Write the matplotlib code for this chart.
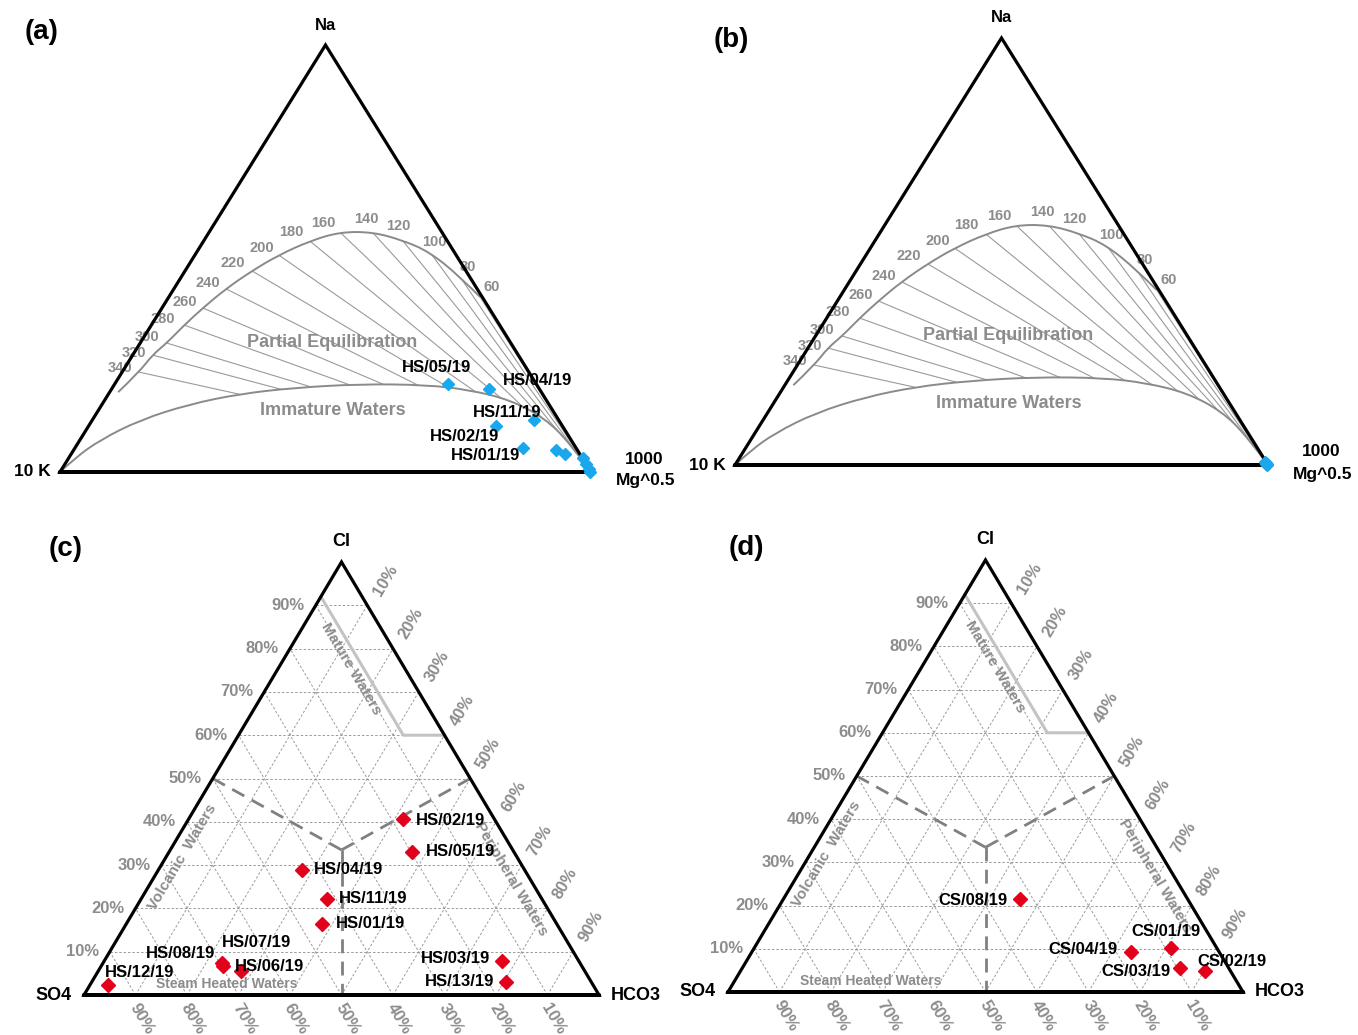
import numpy as np
import matplotlib
matplotlib.use("Agg")
import matplotlib.pyplot as plt
from matplotlib.patches import PathPatch
from matplotlib.path import Path

plt.rcParams['font.family'] = ['Liberation Sans', 'DejaVu Sans']

# ---------------- data ----------------
# Giggenbach Na-K-Mg diagram (fractions of Na/1000, K/100, sqrt(Mg))
iso_temps = [340, 320, 300, 280, 260, 240, 220, 200, 180, 160, 140, 120, 100, 80, 60]
iso_na = [0.234, 0.274, 0.302, 0.344, 0.384, 0.429, 0.471, 0.508, 0.541, 0.562, 0.562, 0.543, 0.515, 0.457, 0.410]
iso_mg = [0.032, 0.037, 0.050, 0.062, 0.077, 0.098, 0.126, 0.158, 0.200, 0.246, 0.307, 0.373, 0.439, 0.525, 0.586]
full_eq_start_na = 0.187
full_eq_start_mg = 0.016
immature_na = [0.0, 0.033, 0.075, 0.122, 0.159, 0.183, 0.197, 0.206, 0.204, 0.192, 0.169, 0.126, 0.068, 0.0]
immature_mg = [0.0, 0.012, 0.038, 0.090, 0.165, 0.248, 0.341, 0.462, 0.589, 0.676, 0.763, 0.850, 0.926, 1.0]

# (a) hot springs
hs_a_names = ['HS/05/19', 'HS/04/19', 'HS/11/19', 'HS/02/19', 'HS/01/19',
              'HS/03/19', 'HS/06/19', 'HS/07/19', 'HS/08/19', 'HS/12/19', 'HS/13/19']
hs_a_na = [0.205, 0.194, 0.122, 0.108, 0.056, 0.052, 0.041, 0.032, 0.018, 0.008, 0.0]
hs_a_mg = [0.629, 0.710, 0.832, 0.768, 0.843, 0.909, 0.931, 0.968, 0.982, 0.992, 0.998]
hs_a_labelled = ['HS/05/19', 'HS/04/19', 'HS/11/19', 'HS/02/19', 'HS/01/19']

# (b) cold springs
cs_b_names = ['CS/01/19', 'CS/02/19', 'CS/03/19', 'CS/04/19', 'CS/08/19']
cs_b_na = [0.004, 0.0, 0.006, 0.003, 0.002]
cs_b_mg = [0.994, 0.998, 0.991, 0.996, 0.995]

# (c) hot springs Cl-SO4-HCO3 (fractions)
hs_c_names = ['HS/02/19', 'HS/05/19', 'HS/04/19', 'HS/11/19', 'HS/01/19', 'HS/08/19',
              'HS/07/19', 'HS/06/19', 'HS/12/19', 'HS/03/19', 'HS/13/19']
hs_c_cl = [0.406, 0.331, 0.289, 0.222, 0.164, 0.074, 0.068, 0.055, 0.023, 0.079, 0.031]
hs_c_hco3 = [0.416, 0.472, 0.278, 0.360, 0.380, 0.230, 0.235, 0.277, 0.035, 0.773, 0.803]

# (d) cold springs
cs_d_names = ['CS/08/19', 'CS/04/19', 'CS/01/19', 'CS/03/19', 'CS/02/19']
cs_d_cl = [0.215, 0.092, 0.103, 0.056, 0.049]
cs_d_hco3 = [0.460, 0.736, 0.809, 0.849, 0.901]

# Cl-SO4-HCO3 field boundaries
mature_cl = [0.92, 0.60, 0.60]
mature_hco3 = [0.0, 0.32, 0.40]
center_cl, center_hco3 = 0.335, 0.3325
tick_pct = [10, 20, 30, 40, 50, 60, 70, 80, 90]

# ---------------- layout helpers ----------------
W, H = 1358, 1035
fig = plt.figure(figsize=(W / 100, H / 100), dpi=100)
GRAY = '#8c8c8c'
CURVE = '#8a8a8a'
BLUE = '#1aa7ec'
RED = '#e3001b'


def make_axes(box, Lx, Rx, base, top):
    x0, y0, x1, y1 = box
    ax = fig.add_axes([x0 / W, 1 - y1 / H, (x1 - x0) / W, (y1 - y0) / H])
    sx = Rx - Lx
    sy = base - top
    ax.set_xlim((x0 - Lx) / sx, (x1 - Lx) / sx)
    ax.set_ylim((base - y1) / sy, (base - y0) / sy)
    ax.set_axis_off()
    return ax


def edge_angle(ax):
    p = ax.transData.transform([(0, 0), (0.5, 1)])
    return np.degrees(np.arctan2(p[1, 1] - p[0, 1], p[1, 0] - p[0, 0]))


def outline(ax):
    ax.plot([0, 1, 0.5, 0, 1], [0, 0, 1, 0, 0], color='black', lw=2.3,
            solid_joinstyle='miter', clip_on=False, zorder=5)


def nkm_xy(na, mg):
    na = np.asarray(na, float)
    mg = np.asarray(mg, float)
    return mg + na / 2, na


def csh_xy(cl, hco3):
    cl = np.asarray(cl, float)
    hco3 = np.asarray(hco3, float)
    return hco3 + cl / 2, cl


def smooth_segments(pts):
    """Quadratic-Bezier path pieces through midpoints, using the read points as control points."""
    verts = [tuple(pts[0])]
    codes = [Path.MOVETO]
    for i in range(1, len(pts) - 1):
        mid = (pts[i] + pts[i + 1]) / 2 if i < len(pts) - 2 else pts[i + 1]
        verts += [tuple(pts[i]), tuple(mid)]
        codes += [Path.CURVE3, Path.CURVE3]
    return verts, codes


iso_offsets = [(-19, 4), (-18, 2), (-20, 6), (-22, 6), (-18, 6), (-18, 6), (-19, 8), (-17, 7),
               (-19, 9), (-17, 9), (-6, 13), (-4, 14), (5, 10), (8, 10), (12, 10)]


def giggenbach(ax, na, mg, names, labelled, offs):
    ux, uy = nkm_xy([full_eq_start_na] + iso_na, [full_eq_start_mg] + iso_mg)
    lx, ly = nkm_xy(immature_na, immature_mg)
    up = np.column_stack([ux, uy])
    lo = np.column_stack([lx, ly])
    uv, uc = smooth_segments(up)
    lv, lc = smooth_segments(lo)
    ax.add_patch(PathPatch(Path(uv, uc), fill=False, ec=CURVE, lw=1.4, zorder=2))
    ax.add_patch(PathPatch(Path(lv, lc), fill=False, ec=CURVE, lw=1.4, zorder=2))
    # region between the two curves, used to clip the isotherm lines
    lrv, lrc = smooth_segments(lo[::-1])
    cv = uv + [(1.0, 0.0)] + lrv[1:] + [uv[0], uv[0]]
    cc = uc + [Path.LINETO] + lrc[1:] + [Path.LINETO, Path.CLOSEPOLY]
    clip = PathPatch(Path(cv, cc), fill=False, lw=0)
    ax.add_patch(clip)
    clip.set_visible(False)
    ix, iy = nkm_xy(iso_na, iso_mg)
    for x, y, t, o in zip(ix, iy, iso_temps, iso_offsets):
        ln, = ax.plot([x, 1.0], [y, 0.0], color='#9a9a9a', lw=0.8, zorder=1)
        ln.set_clip_path(clip)
        ax.annotate(str(t), (x, y), xytext=o, textcoords='offset pixels', ha='center',
                    va='center', fontsize=10.5, fontweight='bold', color=GRAY)
    outline(ax)
    ax.text(0.513, 0.304, 'Partial Equilibration', ha='center', va='center', fontsize=13,
            fontweight='bold', color=GRAY)
    ax.text(0.514, 0.143, 'Immature Waters', ha='center', va='center', fontsize=13,
            fontweight='bold', color=GRAY)
    ax.annotate('Na', (0.5, 1), xytext=(0, 20), textcoords='offset pixels', ha='center',
                va='center', fontsize=12, fontweight='bold',
                family=['Liberation Sans Narrow', 'Liberation Sans'])
    ax.annotate('10 K', (0, 0), xytext=(-9, 0), textcoords='offset pixels', ha='right',
                va='center', fontsize=12.5, fontweight='bold')
    ax.annotate('1000', (1, 0), xytext=(53, 13), textcoords='offset pixels', ha='center',
                va='center', fontsize=12.5, fontweight='bold')
    ax.annotate('Mg^0.5', (1, 0), xytext=(55, -9), textcoords='offset pixels', ha='center',
                va='center', fontsize=12.5, fontweight='bold')
    px, py = nkm_xy(na, mg)
    ax.plot(px, py, 'D', color=BLUE, ms=6.5, mec=BLUE, ls='none', zorder=6, clip_on=False)
    for n, x, y in zip(names, px, py):
        if n in labelled:
            ax.annotate(n, (x, y), xytext=offs[labelled.index(n)], textcoords='offset pixels',
                        ha='center', va='center', fontsize=12, fontweight='bold', zorder=7)


def clso4(ax, cl, hco3, names, offs):
    grid = dict(color='#9a9a9a', lw=0.7, ls=(0, (2.5, 2)), zorder=1)
    for pct in tick_pct:
        f = pct / 100
        ax.plot([f / 2, 1 - f / 2], [f, f], **grid)
        ax.plot([f, (1 + f) / 2], [0, 1 - f], **grid)
        ax.plot([1 - f, (1 - f) / 2], [0, 1 - f], **grid)
    ang = edge_angle(ax)
    tk = dict(textcoords='offset pixels', fontsize=12, fontweight='bold', color=GRAY,
              ha='center', va='center', rotation_mode='anchor')
    for pct in tick_pct:
        f = pct / 100
        ax.annotate(f'{pct}%', (f / 2, f), xytext=(-11, 0), **{**tk, 'ha': 'right'})
        ax.annotate(f'{pct}%', ((1 + f) / 2, 1 - f), xytext=(18, 25), rotation=ang, **tk)
        ax.annotate(f'{pct}%', (1 - f, 0), xytext=(6, -24), rotation=-ang, **tk)
    # field boundaries
    mx, my = csh_xy(mature_cl, mature_hco3)
    ax.plot(mx, my, color='#c3c3c3', lw=2.2, zorder=2)
    dash = dict(color='#808080', lw=2.0, dashes=(5, 3), zorder=2)
    cx, cy = csh_xy([center_cl], [center_hco3])
    ax.plot([0.25, cx[0]], [0.5, cy[0]], **dash)
    ax.plot([0.75, cx[0]], [0.5, cy[0]], **dash)
    ax.plot([cx[0], 0.5], [cy[0], 0.0], **dash)
    outline(ax)
    reg = dict(ha='center', va='center', fontsize=11, fontweight='bold', color=GRAY,
               rotation_mode='anchor')
    ax.text(0.518, 0.753, 'Mature Waters', rotation=-ang, **reg)
    ax.text(0.191, 0.318, 'Volcanic  Waters', rotation=ang, **reg)
    ax.text(0.829, 0.268, 'Peripheral Waters', rotation=-ang, **reg)
    ax.text(0.278, 0.025, 'Steam Heated Waters', **{**reg, 'fontsize': 10})
    ax.annotate('Cl', (0.5, 1), xytext=(0, 21), textcoords='offset pixels', ha='center',
                va='center', fontsize=13, fontweight='bold')
    ax.annotate('SO4', (0, 0), xytext=(-12, 0), textcoords='offset pixels', ha='right',
                va='center', fontsize=13, fontweight='bold')
    ax.annotate('HCO3', (1, 0), xytext=(12, 0), textcoords='offset pixels', ha='left',
                va='center', fontsize=13, fontweight='bold')
    px, py = csh_xy(cl, hco3)
    ax.plot(px, py, 'D', color=RED, ms=7, mec=RED, ls='none', zorder=6)
    for n, x, y, o in zip(names, px, py, offs):
        ax.annotate(n, (x, y), xytext=o, textcoords='offset pixels', ha='center',
                    va='center', fontsize=12, fontweight='bold', zorder=7)


# ---------------- panels ----------------
ax_a = make_axes((0, 0, 679, 515), 60, 591, 472, 45)
giggenbach(ax_a, hs_a_na, hs_a_mg, hs_a_names, hs_a_labelled,
           [(-12, 17), (49, 9), (-27, 7), (-32, -11), (-37, -7)])

ax_b = make_axes((679, 0, 1358, 515), 735, 1268, 465, 38)
giggenbach(ax_b, cs_b_na, cs_b_mg, cs_b_names, [], [])

ax_c = make_axes((0, 515, 679, 1035), 84, 599, 995, 562)
clso4(ax_c, hs_c_cl, hs_c_hco3, hs_c_names,
      [(48, -1), (48, 0), (47, 0), (47, 0), (49, 0), (-41, 9), (34, 23), (29, 5),
       (32, 13), (-47, 2), (-46, 0)])

ax_d = make_axes((679, 515, 1358, 1035), 728, 1243, 992, 560)
clso4(ax_d, cs_d_cl, cs_d_hco3, cs_d_names,
      [(-47, -1), (-48, 3), (-5, 16), (-44, -4), (27, 9)])

for lab, (x, y) in zip(['(a)', '(b)', '(c)', '(d)'],
                       [(42, 32), (731, 40), (66, 549), (746, 548)]):
    fig.text(x / W, 1 - y / H, lab, ha='center', va='center', fontsize=20,
             fontweight='bold', family=['Liberation Sans Narrow', 'Liberation Sans'])

fig.savefig('out.png', dpi=100, facecolor='white')
